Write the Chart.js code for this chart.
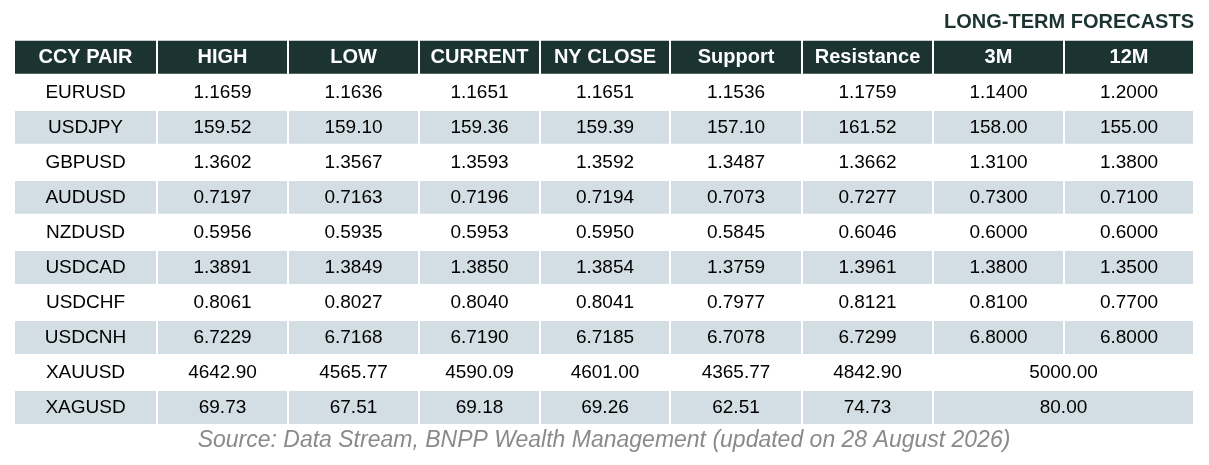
<!DOCTYPE html>
<html>
<head>
<meta charset="utf-8">
<script src="https://cdn.jsdelivr.net/npm/chart.js@4.4.1/dist/chart.umd.min.js"></script>
<style>
  html, body { margin: 0; padding: 0; background: #fff; }
  #wrap { width: 1209px; height: 465px; }
</style>
</head>
<body>
<div id="wrap"><canvas id="fxTable"></canvas></div>
<script>
// table content
const headers = ['CCY PAIR', 'HIGH', 'LOW', 'CURRENT', 'NY CLOSE', 'Support', 'Resistance', '3M', '12M'];
const pairs = ['EURUSD', 'USDJPY', 'GBPUSD', 'AUDUSD', 'NZDUSD', 'USDCAD', 'USDCHF', 'USDCNH', 'XAUUSD', 'XAGUSD'];
const high = ['1.1659', '159.52', '1.3602', '0.7197', '0.5956', '1.3891', '0.8061', '6.7229', '4642.90', '69.73'];
const low = ['1.1636', '159.10', '1.3567', '0.7163', '0.5935', '1.3849', '0.8027', '6.7168', '4565.77', '67.51'];
const current = ['1.1651', '159.36', '1.3593', '0.7196', '0.5953', '1.3850', '0.8040', '6.7190', '4590.09', '69.18'];
const nyClose = ['1.1651', '159.39', '1.3592', '0.7194', '0.5950', '1.3854', '0.8041', '6.7185', '4601.00', '69.26'];
const support = ['1.1536', '157.10', '1.3487', '0.7073', '0.5845', '1.3759', '0.7977', '6.7078', '4365.77', '62.51'];
const resistance = ['1.1759', '161.52', '1.3662', '0.7277', '0.6046', '1.3961', '0.8121', '6.7299', '4842.90', '74.73'];
const forecast3m = ['1.1400', '158.00', '1.3100', '0.7300', '0.6000', '1.3800', '0.8100', '6.8000', '5000.00', '80.00'];
// null = merged into the 3M cell
const forecast12m = ['1.2000', '155.00', '1.3800', '0.7100', '0.6000', '1.3500', '0.7700', '6.8000', null, null];

const columns = [pairs, high, low, current, nyClose, support, resistance, forecast3m, forecast12m];
const rowLabels = ['header'].concat(pairs);

// layout: column edges on the x scale
const colEdges = [0, 143, 274, 405, 526, 656, 788, 919, 1050, 1180];
const gap = 1;

const headerColor = '#1b3431';
const stripeColor = '#d3dee4';
const bodyFont = '"Liberation Sans", Arial, sans-serif';

function cellSpan(c, r) {
    if (r === 0) return [colEdges[c] + gap, colEdges[c + 1] - gap];
    const merged = forecast12m[r - 1] === null;
    if (c === 8 && merged) return null;
    if (c === 7 && merged) return [colEdges[c] + gap, colEdges[9] - gap];
    return [colEdges[c] + gap, colEdges[c + 1] - gap];
}

function cellColor(r) {
    if (r === 0) return headerColor;
    return r % 2 === 0 ? stripeColor : 'rgba(0,0,0,0)';
}

const datasets = headers.map((h, c) => ({
    label: h,
    data: rowLabels.map((_, r) => cellSpan(c, r)),
    backgroundColor: rowLabels.map((_, r) => cellColor(r)),
    borderWidth: 0,
    barPercentage: 0.94,
    categoryPercentage: 1,
    grouped: false
}));

// writes the cell texts at the centre of each bar
const cellText = {
    id: 'cellText',
    afterDatasetsDraw(chart) {
        const ctx = chart.ctx;
        ctx.save();
        ctx.textAlign = 'center';
        ctx.textBaseline = 'middle';
        chart.data.datasets.forEach((ds, c) => {
            const meta = chart.getDatasetMeta(c);
            meta.data.forEach((bar, r) => {
                if (ds.data[r] === null) return;
                const p = bar.getCenterPoint();
                let text;
                if (r === 0) {
                    text = headers[c];
                    ctx.fillStyle = '#ffffff';
                    ctx.font = 'bold 20px ' + bodyFont;
                } else {
                    text = columns[c][r - 1];
                    ctx.fillStyle = '#000000';
                    ctx.font = '19px ' + bodyFont;
                }
                ctx.fillText(text, p.x, p.y);
            });
        });
        ctx.restore();
    }
};

const config = {
    type: 'bar',
    data: { labels: rowLabels, datasets: datasets },
    options: {
        indexAxis: 'y',
        responsive: true,
        maintainAspectRatio: false,
        animation: false,
        layout: { padding: { left: 14, right: 15, top: 0, bottom: 0 } },
        scales: {
            x: { type: 'linear', min: 0, max: 1180, display: false },
            y: { type: 'category', display: false, offset: true }
        },
        plugins: {
            legend: { display: false },
            tooltip: { enabled: false },
            title: {
                display: true,
                text: 'LONG-TERM FORECASTS',
                align: 'end',
                color: headerColor,
                font: { family: bodyFont, size: 20, weight: 'bold' },
                padding: { top: 10.5, bottom: 5.3 }
            },
            subtitle: {
                display: true,
                position: 'bottom',
                text: 'Source: Data Stream, BNPP Wealth Management (updated on 28 August 2026)',
                color: '#8a8a8a',
                font: { family: bodyFont, size: 23, style: 'italic' },
                padding: { top: 2, bottom: 10.4 }
            }
        }
    },
    plugins: [cellText]
};

window.onload = function() {
    const ctx = document.getElementById('fxTable').getContext('2d');
    new Chart(ctx, config);
};
</script>
</body>
</html>
